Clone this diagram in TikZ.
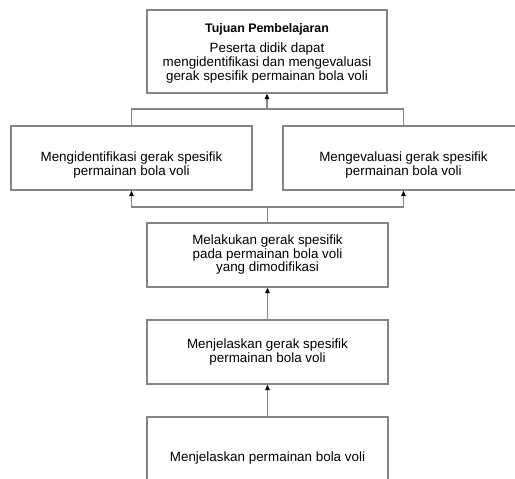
\documentclass[tikz,border=0pt]{standalone}
\usepackage{fontspec}
\setmainfont{Liberation Sans}
\usetikzlibrary{arrows.meta}
\definecolor{edgegray}{HTML}{858585}
\tikzset{
  box/.style={draw=edgegray, line width=1.3pt, align=center, inner sep=0pt,
    font=\fontsize{13.4}{11.6}\selectfont},
  wide/.style={minimum width=241pt, minimum height=64pt},
  txt/.style={align=center, inner sep=0pt, font=\fontsize{13.4}{11.6}\selectfont},
  link/.style={draw=edgegray, line width=1.3pt},
  up/.style={link, -{Triangle[length=5.5pt,width=4.5pt,fill=black,color=black]}}
}
\begin{document}
\begin{tikzpicture}[x=1pt,y=-1pt]
\clip (0,0) rectangle (515,479);
\fill[white] (0,0) rectangle (515,479);

% goal box
\node[box, minimum width=240pt, minimum height=83pt] (goal) at (267,51.5) {};
\node[txt, font=\fontsize{13.4}{13.8}\selectfont] (goaltext) at (267,53.5)
  {{\fontsize{12.4}{13.8}\selectfont\bfseries Tujuan Pembelajaran}\\[6pt]
   Peserta didik dapat\\ mengidentifikasi dan mengevaluasi\\ gerak spesifik permainan bola voli};

% two sub-goals
\node[box, wide] (ident) at (131.5,158) {};
\node[txt] (identtext) at (131.5,165)
  {Mengidentifikasi gerak spesifik\\ permainan bola voli};
\node[box, wide] (eval) at (403.5,158) {};
\node[txt] (evaltext) at (403.5,165)
  {Mengevaluasi gerak spesifik\\ permainan bola voli};

% steps below
\node[box, wide] (mod) at (267.5,255)
  {Melakukan gerak spesifik\\ pada permainan bola voli\\ yang dimodifikasi};
\node[box, wide] (expl) at (267.5,352)
  {Menjelaskan gerak spesifik\\ permainan bola voli};
\node[box, minimum width=241pt, minimum height=82pt] (game) at (267.5,458)
  {Menjelaskan permainan bola voli};

% junctions
\coordinate (topj) at (267,109);
\coordinate (botj) at (267.5,207);

% sub-goals up to the goal
\draw[link] (ident.north) |- (topj);
\draw[link] (eval.north) |- (topj);
\draw[up] (topj) -- (goal.south);

% modified play up to both sub-goals
\draw[link] (mod.north) -- (botj);
\draw[up] (botj) -| (ident.south);
\draw[up] (botj) -| (eval.south);

% lower chain
\draw[up] (expl.north) -- (mod.south);
\draw[up] (game.north) -- (expl.south);
\end{tikzpicture}
\end{document}
